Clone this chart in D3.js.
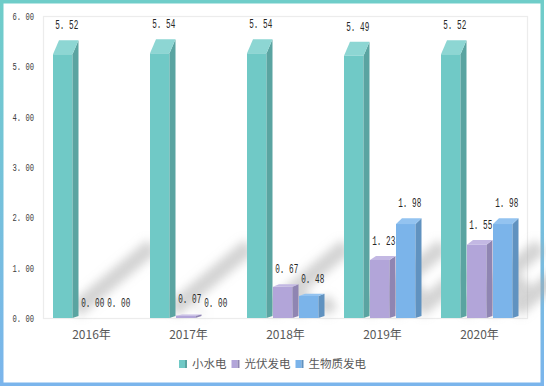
<!DOCTYPE html>
<html>
<head>
<meta charset="utf-8">
<script src="https://cdn.jsdelivr.net/npm/d3@7"></script>
<style>
  body { margin: 0; background: #fff; }
  svg { display: block; }
</style>
</head>
<body>
<svg id="chart" width="546" height="386"></svg>
<script>
// data
const years = ['2016年', '2017年', '2018年', '2019年', '2020年']
const series = ['小水电', '光伏发电', '生物质发电']
const hydro = [5.52, 5.54, 5.54, 5.49, 5.52]
const solar = [0.00, 0.07, 0.67, 1.23, 1.55]
const biomass = [0.00, 0.00, 0.48, 1.98, 1.98]
const yTicks = [0, 1, 2, 3, 4, 5, 6]

const values = [hydro, solar, biomass]
const colors = [
    { front: '#70c9c6', side: '#5aa4a1', top: '#8dd6d3' },
    { front: '#b2a5d9', side: '#8f85b2', top: '#c3b8e3' },
    { front: '#7bb4ea', side: '#6092c0', top: '#93c3f0' }
]

let svg = d3.select('#chart')

// outer frame, teal at the top fading into blue at the bottom
let defs = svg.append('defs')
let grad = defs.append('linearGradient')
    .attr('id', 'frame')
    .attr('x1', 0).attr('y1', 0).attr('x2', 0).attr('y2', 1)
grad.append('stop').attr('offset', '0%').attr('stop-color', '#6fcdc9')
grad.append('stop').attr('offset', '100%').attr('stop-color', '#7bb5ec')

let blur = defs.append('filter').attr('id', 'blur')
    .attr('x', '-50%').attr('y', '-50%').attr('width', '200%').attr('height', '200%')
blur.append('feGaussianBlur').attr('stdDeviation', 5)

svg.append('rect')
    .attr('x', 1.75).attr('y', 1.75)
    .attr('width', 540.5).attr('height', 382.5)
    .attr('fill', '#fff')
    .attr('stroke', 'url(#frame)')
    .attr('stroke-width', 3.5)

const plotL = 43, plotR = 528, plotT = 16, plotB = 318

let x0 = d3.scaleBand().domain(years).range([plotL, plotR])
let x1 = d3.scaleBand().domain(series).range([10, 81.5]).paddingInner(0.25)
let y = d3.scaleLinear().domain([0, 6]).range([plotB, plotT])

const bw = x1.bandwidth()
const dx = 6
const fmt = d => d3.format('.2f')(d).replace('.', '. ')

// plot area
svg.append('rect')
    .attr('x', plotL + 0.5).attr('y', plotT + 0.5)
    .attr('width', plotR - plotL - 1).attr('height', plotB - plotT)
    .attr('fill', 'none')
    .attr('stroke', '#ececec')
    .attr('stroke-width', 1.2)

// y axis labels
let yAxis = d3.axisLeft(y).tickValues(yTicks).tickFormat(fmt).tickSize(0).tickPadding(9)
let yg = svg.append('g').attr('transform', `translate(${plotL},0)`).call(yAxis)
yg.select('.domain').remove()
yg.selectAll('text')
    .attr('fill', '#404040')
    .attr('textLength', 21.5)
    .attr('lengthAdjust', 'spacingAndGlyphs')
    .style('font-family', '"Liberation Mono", monospace')
    .style('font-size', '11px')

// flatten into bar records
let bars = []
years.forEach((yr, i) => {
    series.forEach((s, j) => {
        let v = values[j][i]
        let xF = x0(yr) + x1(s)
        let yBack = y(v)
        let h = plotB - yBack
        let dy = h > 0 ? 1 + 0.047 * h : 0
        bars.push({ yr, s, j, v, xF, yBack, yFront: yBack + dy, h })
    })
})

// cast shadows behind the bars
svg.append('g').attr('filter', 'url(#blur)')
    .selectAll('line')
    .data(bars.filter(b => b.h > 0))
    .enter()
    .append('line')
    .attr('x1', b => b.xF + bw + 3)
    .attr('y1', plotB - 8)
    .attr('x2', b => b.xF + bw + 3 + Math.min(b.h * 0.6, 100) * 0.77)
    .attr('y2', b => plotB - 8 - Math.min(b.h * 0.6, 100) * 0.64)
    .attr('stroke', '#a8a8a8')
    .attr('stroke-opacity', 0.5)
    .attr('stroke-width', 16)

let bg = svg.append('g')
    .selectAll('g')
    .data(bars.filter(b => b.h > 0))
    .enter()
    .append('g')

bg.append('rect')
    .attr('x', b => b.xF)
    .attr('y', b => b.yFront)
    .attr('width', bw)
    .attr('height', b => Math.max(plotB - b.yFront, 0))
    .attr('fill', b => colors[b.j].front)

bg.append('path')
    .attr('d', b => {
        let r = b.xF + bw
        let base = Math.max(plotB - 2, b.yBack)
        return `M${r},${b.yFront}L${r + dx},${b.yBack}L${r + dx},${base}L${r},${plotB}Z`
    })
    .attr('fill', b => colors[b.j].side)

bg.append('path')
    .attr('d', b => {
        let l = b.xF
        return `M${l},${b.yFront}L${l + dx},${b.yBack}L${l + bw + dx},${b.yBack}L${l + bw},${b.yFront}Z`
    })
    .attr('fill', b => colors[b.j].top)

// value labels
svg.append('g')
    .selectAll('text')
    .data(bars)
    .enter()
    .append('text')
    .attr('x', b => b.xF + (bw + dx) / 2 + 1)
    .attr('y', b => b.yBack - 11)
    .attr('text-anchor', 'middle')
    .attr('textLength', 23)
    .attr('lengthAdjust', 'spacingAndGlyphs')
    .attr('fill', '#262626')
    .style('font-family', '"Liberation Mono", monospace')
    .style('font-size', '13px')
    .text(b => fmt(b.v))

// x axis labels
let xAxis = d3.axisBottom(x0).tickSize(0).tickPadding(12)
let xg = svg.append('g').attr('transform', `translate(0,${plotB})`).call(xAxis)
xg.select('.domain').remove()
xg.selectAll('text')
    .attr('fill', '#595959')
    .style('font-family', '"Noto Sans CJK SC", sans-serif')
    .style('font-size', '12px')

// legend
let lg = svg.append('g').attr('transform', 'translate(179,364)')
let lx = 0
series.forEach((s, j) => {
    let item = lg.append('g').attr('transform', `translate(${lx},0)`)
    item.append('rect').attr('x', 0).attr('y', -4).attr('width', 6).attr('height', 8).attr('fill', colors[j].front)
    item.append('rect').attr('x', 6).attr('y', -4).attr('width', 2).attr('height', 8).attr('fill', colors[j].side)
    let t = item.append('text')
        .attr('x', 13).attr('y', 0)
        .attr('dy', '0.35em')
        .attr('fill', '#595959')
        .style('font-family', '"Noto Sans CJK SC", sans-serif')
        .style('font-size', '11.5px')
        .text(s)
    lx += 13 + t.node().getComputedTextLength() + 5
})
</script>
</body>
</html>
